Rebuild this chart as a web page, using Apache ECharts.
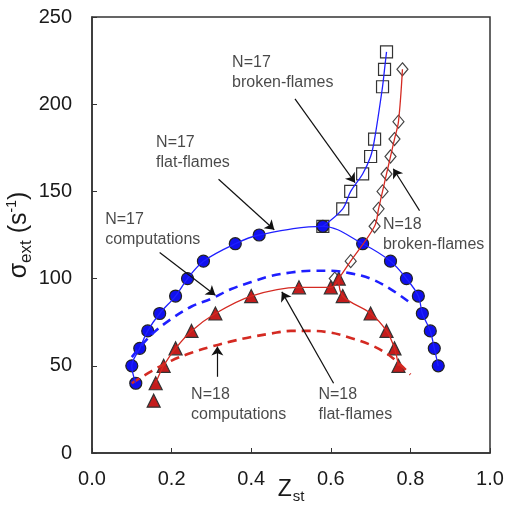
<!DOCTYPE html>
<html>
<head>
<meta charset="utf-8">
<script src="https://cdn.jsdelivr.net/npm/echarts@6/dist/echarts.min.js"></script>
<style>
  html, body { margin: 0; padding: 0; background: #fff; }
  #main { width: 505px; height: 509px; }
</style>
</head>
<body>
<div id="main"></div>
<script>
// N=17 flat-flames (circles)
const n17FlatZ = [0.11, 0.10, 0.12, 0.14, 0.17, 0.21, 0.24, 0.28, 0.36, 0.42, 0.58, 0.68, 0.75, 0.79, 0.82, 0.83, 0.85, 0.86, 0.87];
const n17FlatS = [40, 50, 60, 70, 80, 90, 100, 110, 120, 125, 130, 120, 110, 100, 90, 80, 70, 60, 50];
// N=17 broken-flames (squares)
const n17BrokenZ = [0.58, 0.63, 0.65, 0.68, 0.70, 0.71, 0.73, 0.735, 0.74];
const n17BrokenS = [130, 140, 150, 160, 170, 180, 210, 220, 230];
// N=18 flat-flames (triangles), left and right branches
const n18FlatLeftZ = [0.155, 0.16, 0.18, 0.21, 0.25, 0.31, 0.40, 0.52, 0.60, 0.62];
const n18FlatLeftS = [30, 40, 50, 60, 70, 80, 90, 95, 95, 100];
const n18FlatRightZ = [0.62, 0.63, 0.70, 0.74, 0.76, 0.77];
const n18FlatRightS = [100, 90, 80, 70, 60, 50];
// N=18 broken-flames (diamonds)
const n18BrokenZ = [0.61, 0.65, 0.71, 0.72, 0.73, 0.74, 0.75, 0.76, 0.77, 0.78];
const n18BrokenS = [100, 110, 130, 140, 150, 160, 170, 180, 190, 220];
// computations (dashed)
const n17CompZ = [0.10, 0.15, 0.20, 0.25, 0.30, 0.35, 0.40, 0.45, 0.50, 0.55, 0.60, 0.65, 0.70, 0.75, 0.80];
const n17CompS = [55, 68, 77, 84, 88.5, 94, 98, 101.5, 103.5, 104.5, 104.5, 103, 100, 94, 86];
const n18CompZ = [0.10, 0.15, 0.20, 0.25, 0.30, 0.35, 0.40, 0.45, 0.50, 0.55, 0.60, 0.65, 0.70, 0.75, 0.80];
const n18CompS = [40, 47, 53, 57.5, 61, 64, 66.5, 68.5, 70, 70, 69, 66, 62, 55.5, 45];
// axis ticks
const xTicks = [0.0, 0.2, 0.4, 0.6, 0.8, 1.0];
const yTicks = [0, 50, 100, 150, 200, 250];

// annotations: text anchor [z, sigma] and arrow [from, to]
const notes = [
  { text: 'N=17\nbroken-flames', at: [0.352, 218], arrow: [[0.510, 203], [0.661, 155]] },
  { text: 'N=17\nflat-flames', at: [0.161, 172], arrow: [[0.318, 157], [0.458, 128]] },
  { text: 'N=17\ncomputations', at: [0.033, 128], arrow: [[0.170, 115], [0.310, 90.5]] },
  { text: 'N=18\nbroken-flames', at: [0.731, 125], arrow: [[0.823, 139], [0.757, 163]] },
  { text: 'N=18\ncomputations', at: [0.249, 27.5], arrow: [[0.315, 43.7], [0.315, 61]] },
  { text: 'N=18\nflat-flames', at: [0.569, 27.5], arrow: [[0.607, 40], [0.477, 92.4]] }
];

const zip = (xs, ys) => xs.map((x, i) => [x, ys[i]]);
const FONT = '"Liberation Sans", Arial, sans-serif';
const BLUE = '#1f1fff';
const RED = '#d42a22';

function lineSeries(data, color, width, dashed) {
  return {
    type: 'line',
    data: data,
    smooth: 0.35,
    showSymbol: false,
    symbol: 'none',
    lineStyle: { color: color, width: width, type: dashed ? [9, 6] : 'solid' },
    silent: true
  };
}

function markerSeries(data, symbol, size, fill, border) {
  return {
    type: 'scatter',
    data: data,
    symbol: symbol,
    symbolSize: size,
    itemStyle: { color: fill, borderColor: border, borderWidth: 1.2, opacity: 1 },
    silent: true
  };
}

var myChart = echarts.init(document.getElementById('main'));
var option = {
  animation: false,
  textStyle: { fontFamily: FONT },
  grid: {
    left: 92,
    right: 15,
    top: 17,
    bottom: 56,
    outerBoundsMode: 'none',
    containLabel: false,
    show: true,
    borderColor: '#333',
    borderWidth: 1.5,
    backgroundColor: 'transparent'
  },
  xAxis: {
    type: 'value',
    min: 0,
    max: 1,
    interval: 0.2,
    name: '{z|Z}{sub|st}',
    nameLocation: 'middle',
    nameGap: 22,
    nameMoveOverlap: false,
    nameTextStyle: {
      rich: {
        z: { fontSize: 23, color: '#1a1a1a', fontFamily: FONT },
        sub: { fontSize: 15, color: '#1a1a1a', fontFamily: FONT, padding: [14, 0, 0, 1] }
      }
    },
    axisLine: { show: true, lineStyle: { color: '#333', width: 1.5 } },
    axisTick: { show: true, inside: true, length: 5, lineStyle: { color: '#333' } },
    splitLine: { show: false },
    axisLabel: {
      fontSize: 20,
      color: '#1a1a1a',
      margin: 16,
      formatter: (v) => xTicks.includes(+v.toFixed(1)) ? v.toFixed(1) : ''
    }
  },
  yAxis: {
    type: 'value',
    min: 0,
    max: 250,
    interval: 50,
    name: '{s|σ}{sub|ext}{s| (s}{sup|-1}{s|)}',
    nameLocation: 'middle',
    nameGap: 57,
    nameMoveOverlap: false,
    nameRotate: 90,
    nameTextStyle: {
      rich: {
        s: { fontSize: 25, color: '#1a1a1a', fontFamily: FONT },
        sub: { fontSize: 17, color: '#1a1a1a', fontFamily: FONT, padding: [15, 0, 0, 0] },
        sup: { fontSize: 14, color: '#1a1a1a', fontFamily: FONT, padding: [0, 0, 13, 0] }
      }
    },
    axisLine: { show: true, lineStyle: { color: '#333', width: 1.5 } },
    axisTick: { show: true, inside: true, length: 5, lineStyle: { color: '#333' } },
    splitLine: { show: false },
    axisLabel: {
      fontSize: 20,
      color: '#1a1a1a',
      margin: 20,
      formatter: (v) => yTicks.includes(v) ? String(v) : ''
    }
  },
  series: [
    lineSeries(zip(n17CompZ, n17CompS), BLUE, 2.6, true),
    lineSeries(zip(n18CompZ, n18CompS), RED, 2.6, true),
    lineSeries(zip(n17FlatZ, n17FlatS), BLUE, 1.3, false),
    lineSeries(zip(n17BrokenZ, n17BrokenS), BLUE, 1.3, false),
    lineSeries(zip(n18FlatLeftZ.slice(1), n18FlatLeftS.slice(1)), RED, 1.3, false),
    lineSeries(zip(n18FlatRightZ, n18FlatRightS), RED, 1.3, false),
    lineSeries(zip([0.62].concat(n18BrokenZ.slice(1)), [100].concat(n18BrokenS.slice(1))), RED, 1.3, false),
    markerSeries(zip(n17BrokenZ, n17BrokenS), 'rect', 12, 'rgba(255,255,255,0)', '#333'),
    markerSeries(zip(n18BrokenZ, n18BrokenS), 'diamond', [11, 13], 'rgba(255,255,255,0)', '#444'),
    markerSeries(zip(n17FlatZ, n17FlatS), 'circle', 12, '#1010ee', '#222'),
    markerSeries(zip(n18FlatLeftZ, n18FlatLeftS).concat(zip(n18FlatRightZ.slice(1), n18FlatRightS.slice(1))), 'triangle', 13, '#c41c1c', '#333'),
    {
      type: 'line',
      data: [],
      silent: true,
      markLine: {
        silent: true,
        symbol: ['none', 'arrow'],
        symbolSize: 9,
        label: { show: false },
        lineStyle: { color: '#111', width: 1.2, type: 'solid' },
        data: notes.map((n) => [{ coord: n.arrow[0] }, { coord: n.arrow[1] }])
      }
    },
    {
      type: 'scatter',
      symbolSize: 0,
      silent: true,
      data: notes.map((n) => ({ value: n.at, name: n.text })),
      label: {
        show: true,
        position: 'inside',
        align: 'left',
        verticalAlign: 'middle',
        formatter: (p) => p.name,
        fontSize: 16,
        lineHeight: 20,
        color: '#1a1a1a',
        fontFamily: FONT
      }
    }
  ]
};
option && myChart.setOption(option);
</script>
</body>
</html>
